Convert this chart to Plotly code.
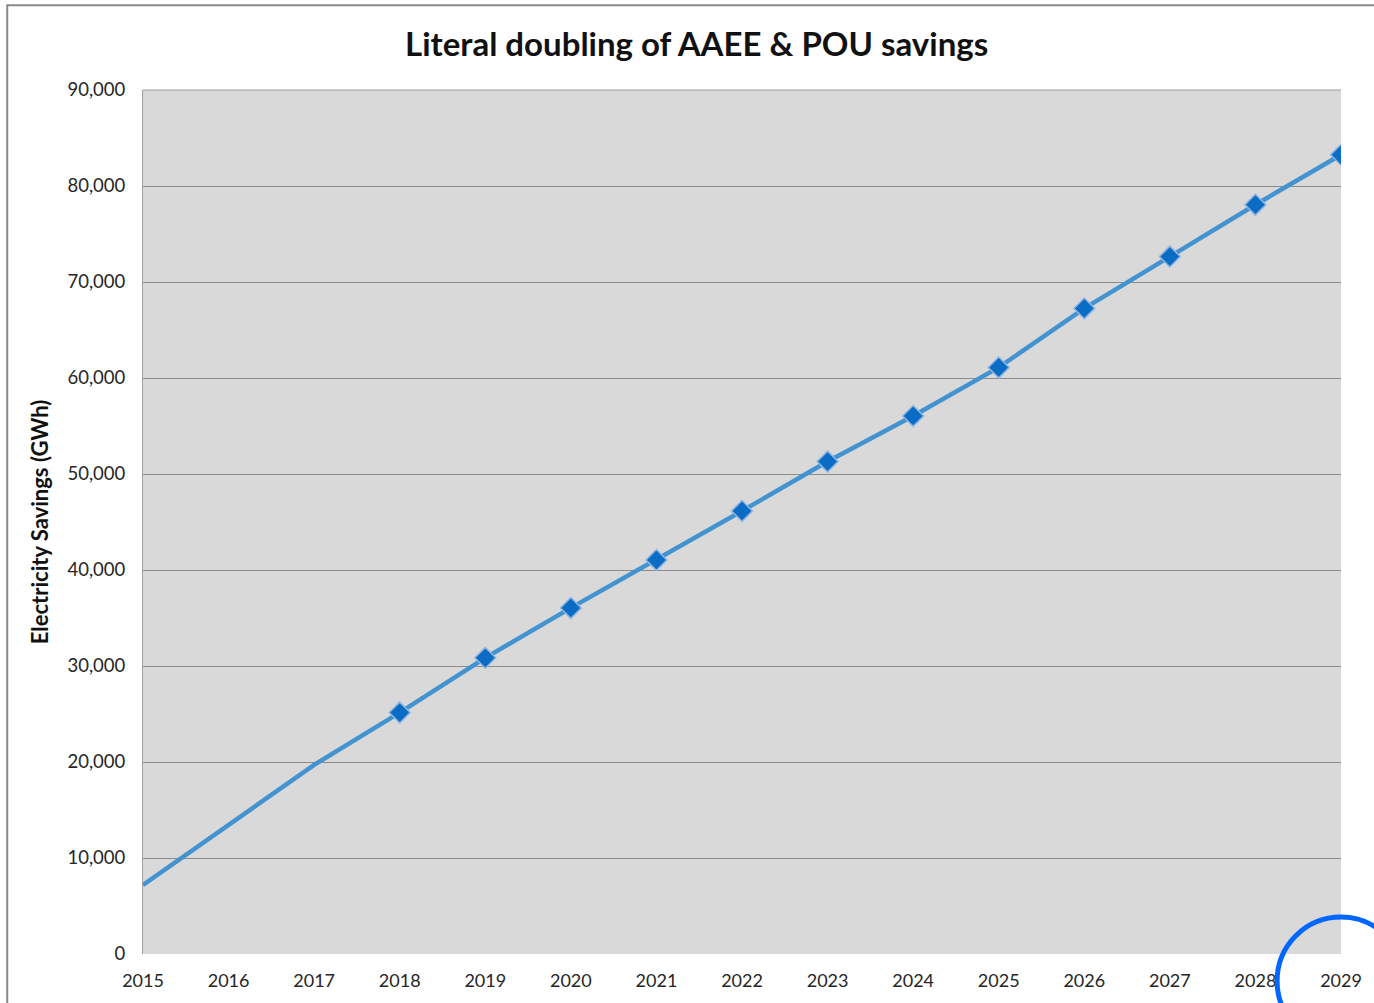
import plotly.graph_objects as go

years = [2015, 2016, 2017, 2018, 2019, 2020, 2021, 2022, 2023, 2024, 2025, 2026, 2027, 2028, 2029]
savings = [7200, 13500, 19700, 25150, 30850, 36050, 41050, 46150, 51300, 56050, 61100, 67250, 72650, 78050, 83250]
marker_start = 3  # markers are shown from 2018 onward
y_ticks = [0, 10000, 20000, 30000, 40000, 50000, 60000, 70000, 80000, 90000]
title_text = "Literal doubling of AAEE & POU savings"
y_title = "Electricity Savings (GWh)"

W, H = 1374, 1003
L, R, T, B = 143, 31, 90, 47
pw, ph = W - L - R, H - T - B

def px(x):
    return (x - L) / pw

def py(y):
    return (H - B - y) / ph

fig = go.Figure()
fig.add_trace(go.Scatter(
    x=years, y=savings, mode="lines",
    line=dict(color="#4393D1", width=4.5),
    hoverinfo="skip", showlegend=False))
fig.add_trace(go.Scatter(
    x=years[marker_start:], y=savings[marker_start:], mode="markers",
    marker=dict(symbol="diamond", size=16, color="#0A6CC4",
                line=dict(color="#8DB3E2", width=1.5)),
    showlegend=False))

fig.update_layout(
    width=W, height=H,
    margin=dict(l=L, r=R, t=T, b=B),
    paper_bgcolor="white", plot_bgcolor="#D9D9D9",
    font=dict(family="Lato, 'Open Sans', sans-serif", color="#222"),
    title=dict(text="<b>" + title_text + "</b>", x=0.507, xanchor="center",
               y=1 - 44 / H, yanchor="middle",
               font=dict(size=33, color="#111")),
    xaxis=dict(range=[2015, 2029], tickmode="array", tickvals=years,
               ticktext=[str(y) for y in years], showgrid=False,
               zeroline=False, showline=False, ticks="",
               ticklabelstandoff=14,
               tickfont=dict(size=18, color="#262626")),
    yaxis=dict(range=[0, 90000], tickmode="array", tickvals=y_ticks,
               ticktext=[f"{v:,}" for v in y_ticks],
               showgrid=True, gridcolor="#8C8C8C", gridwidth=1,
               zeroline=False, showline=True, linecolor="#A0A0A0", linewidth=1,
               ticks="", ticklabelstandoff=13,
               tickfont=dict(size=18.5, color="#262626"),
               title=dict(text="<b>" + y_title + "</b>", standoff=12,
                          font=dict(size=22, color="#111"))),
)

# outer chart frame (partially cut off on right and bottom)
fig.add_shape(type="rect", xref="paper", yref="paper",
              x0=px(7), x1=px(1400), y0=py(1040), y1=py(5),
              line=dict(color="#8A8A8A", width=2), fillcolor="rgba(0,0,0,0)",
              layer="below")
# top border of plot area
fig.add_shape(type="line", xref="paper", yref="paper",
              x0=0, x1=1, y0=1, y1=1, line=dict(color="#A0A0A0", width=1))
# blue highlight circle
fig.add_shape(type="circle", xref="paper", yref="paper",
              x0=px(1279), x1=px(1407), y0=py(1047), y1=py(919),
              line=dict(color="#0066FF", width=5), fillcolor="rgba(0,0,0,0)")

fig.write_html("out.html", config={"displayModeBar": False},
               post_script="document.body.style.margin='0';document.body.style.overflow='hidden';")
